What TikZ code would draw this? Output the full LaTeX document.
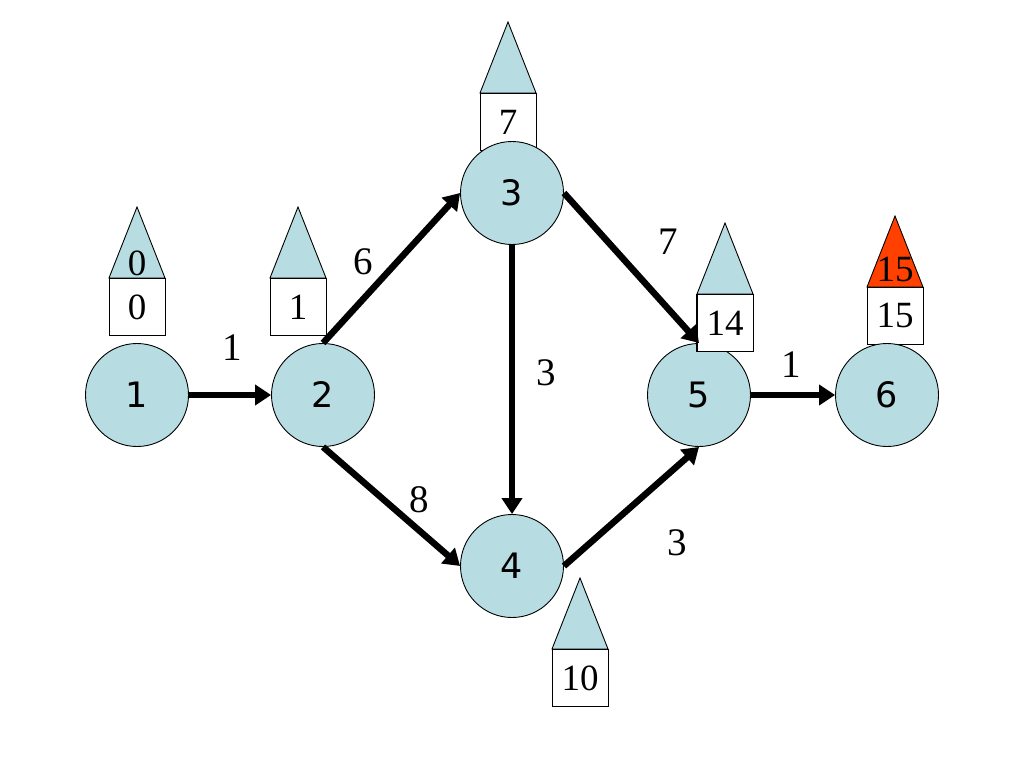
\documentclass[tikz,border=0pt]{standalone}
\usepackage{fontspec}
\setmainfont{Liberation Serif}
\newfontfamily\vfont{DejaVu Sans}
\usetikzlibrary{arrows.meta}
\definecolor{nodeblue}{RGB}{183,221,226}
\definecolor{hot}{RGB}{255,64,0}
\tikzset{
  nd/.style={circle, draw=black, line width=0.9pt, fill=nodeblue, minimum size=103pt, inner sep=0pt, font=\vfont\fontsize{35}{40}\selectfont},
  bx/.style={draw=black, fill=white, line width=0.9pt, minimum width=56pt, minimum height=57pt, inner sep=0pt, font=\fontsize{37}{42}\selectfont},
  tri/.style={draw=black, line width=0.9pt},
  trilbl/.style={inner sep=0pt, font=\fontsize{37}{42}\selectfont},
  edge/.style={line width=6.5pt, -{Triangle[length=16pt,width=20pt]}},
  wt/.style={inner sep=0pt, font=\fontsize{39}{44}\selectfont}
}
% #1 name, #2 x, #3 base y, #4 box text, #5 triangle fill
\newcommand\mytribox[5]{%
  \filldraw[tri, fill=#5] (#2-28,#3) -- (#2,#3-71) -- (#2+28,#3) -- cycle;
  \node[bx, anchor=north] (#1) at (#2,#3) {#4};
}
\begin{document}
\begin{tikzpicture}[x=1pt,y=-1pt]
\useasboundingbox (0,0) rectangle (1024,768);

% boxes with triangles (drawn below circles)
\mytribox{b1}{137}{278}{0}{nodeblue}
\mytribox{b2}{298}{278}{1}{nodeblue}
\mytribox{b3}{508}{93}{7}{nodeblue}
\mytribox{b4}{580}{649}{10}{nodeblue}
\mytribox{b6}{895}{287}{15}{hot}
\node[trilbl] (t1) at (137,263) {0};
\node[trilbl] (t6) at (895,269) {15};

% nodes
\node[nd] (n1) at (137,395) {1};
\node[nd] (n2) at (323,395) {2};
\node[nd] (n3) at (512,193) {3};
\node[nd] (n4) at (512,566) {4};
\node[nd] (n5) at (699,395) {5};
\node[nd] (n6) at (887,395) {6};

% box of node 5 over its circle
\mytribox{b5}{725}{294}{14}{nodeblue}
\draw[line width=0.9pt] (b5.north west) rectangle (b5.south east);

% edges
\draw[edge] (n1.east) -- (n2.west);
\draw[edge] (n2.north) -- (n3.west);
\draw[edge] (n2.south) -- (n4.west);
\draw[edge] (n3.south) -- (n4.north);
\draw[edge] (n3.east) -- (n5.north);
\draw[edge] (n4.east) -- (n5.south);
\draw[edge] (n5.east) -- (n6.west);

% weights
\node[wt] (w12) at (232,348) {1};
\node[wt] (w23) at (363,262) {6};
\node[wt] (w35) at (668,242) {7};
\node[wt] (w34) at (546,373) {3};
\node[wt] (w24) at (419,500) {8};
\node[wt] (w45) at (677,543) {3};
\node[wt] (w56) at (791,365) {1};
\end{tikzpicture}
\end{document}
